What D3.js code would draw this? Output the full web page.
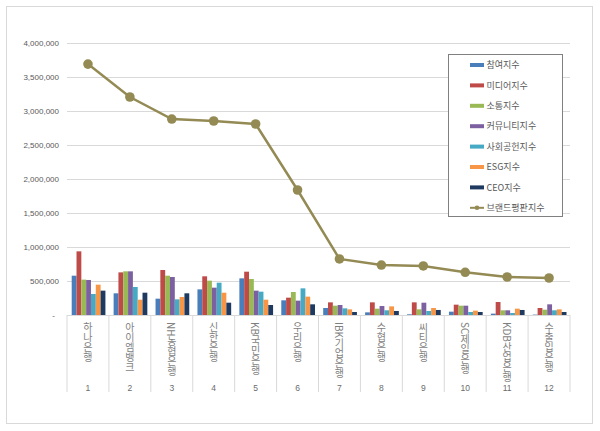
<!DOCTYPE html>
<html>
<head>
<meta charset="utf-8">
<script src="https://cdn.jsdelivr.net/npm/d3@7"></script>
<style>
  html, body { margin: 0; padding: 0; background: #fff; }
  svg { display: block; font-family: "Noto Sans CJK KR", "Noto Sans", sans-serif; }
</style>
</head>
<body>
<svg id="chart" width="600" height="431"></svg>
<script>
const banks = ["하나은행", "아이엠뱅크", "NH농협은행", "신한은행", "KB국민은행", "우리은행",
  "IBK기업은행", "수협은행", "씨티은행", "SC제일은행", "KDB산업은행", "수출입은행"];
const ranks = ["1", "2", "3", "4", "5", "6", "7", "8", "9", "10", "11", "12"];

const seriesNames = ["참여지수", "미디어지수", "소통지수", "커뮤니티지수", "사회공헌지수", "ESG지수", "CEO지수"];
const participation = [578000, 319000, 240000, 377000, 539000, 216000, 103000, 39000, 10000, 49000, 20000, 6000];
const media = [936000, 627000, 662000, 569000, 637000, 255000, 186000, 186000, 186000, 152000, 191000, 103000];
const communication = [520000, 642000, 578000, 505000, 529000, 338000, 137000, 93000, 83000, 137000, 69000, 78000];
const community = [515000, 642000, 559000, 402000, 358000, 211000, 147000, 132000, 181000, 137000, 69000, 157000];
const social = [309000, 412000, 230000, 475000, 343000, 392000, 98000, 69000, 59000, 44000, 29000, 69000];
const esg = [446000, 225000, 265000, 328000, 225000, 270000, 83000, 127000, 103000, 64000, 93000, 83000];
const ceo = [358000, 328000, 319000, 181000, 147000, 157000, 44000, 59000, 74000, 44000, 74000, 44000];
const brand = [3690000, 3206000, 2882000, 2853000, 2809000, 1838000, 824000, 735000, 721000, 628000, 559000, 544000];
const lineName = "브랜드평판지수";

const yTicks = [0, 500000, 1000000, 1500000, 2000000, 2500000, 3000000, 3500000, 4000000];

const barSeries = [participation, media, communication, community, social, esg, ceo];
const colors = ["#4a7ebb", "#be4b48", "#98b954", "#7d60a0", "#46aac5", "#f79646", "#1f3a60"];
const lineColor = "#948a54";

const svg = d3.select("#chart");
const margin = { left: 67, right: 30, top: 43, bottom: 116 };
const width = 600, height = 431;
const plotW = width - margin.left - margin.right;
const plotH = height - margin.top - margin.bottom;

svg.append("rect")
  .attr("x", 6.5).attr("y", 6.5)
  .attr("width", 586).attr("height", 417)
  .attr("fill", "#fff")
  .attr("stroke", "#d9d9d9");

const chart = svg.append("g").attr("transform", `translate(${margin.left},${margin.top})`);

const x = d3.scaleBand().domain(ranks).range([0, plotW]);
const xInner = d3.scaleBand().domain(d3.range(seriesNames.length)).range([4.7, x.bandwidth() - 3.5]);
const y = d3.scaleLinear().domain([0, 4000000]).range([plotH, 0]);

// gridlines
const grid = chart.append("g")
  .call(d3.axisLeft(y).tickValues(yTicks).tickSize(-plotW).tickFormat(""));
grid.select(".domain").remove();
grid.selectAll(".tick line").attr("stroke", "#d9d9d9");

// y labels
const yAxisG = chart.append("g")
  .call(d3.axisLeft(y).tickValues(yTicks).tickSize(0).tickPadding(8)
    .tickFormat(d => d === 0 ? "-" : d3.format(",")(d)));
yAxisG.select(".domain").remove();
yAxisG.selectAll("text").attr("fill", "#595959").style("font-size", "8px")
  .style("font-family", "'Liberation Sans', Arial, sans-serif");
yAxisG.selectAll(".tick").filter(d => d === 0).select("text").attr("dx", -4);

// category separators
const sepY2 = 77;
chart.append("g").selectAll("line")
  .data(d3.range(ranks.length + 1))
  .join("line")
  .attr("x1", i => i * x.step()).attr("x2", i => i * x.step())
  .attr("y1", plotH).attr("y2", plotH + sepY2)
  .attr("stroke", "#d9d9d9");

// bars
barSeries.forEach((vals, si) => {
  chart.append("g").selectAll("rect")
    .data(vals)
    .join("rect")
    .attr("x", (d, i) => x(ranks[i]) + xInner(si))
    .attr("width", xInner.bandwidth())
    .attr("y", d => y(d))
    .attr("height", d => plotH - y(d))
    .attr("fill", colors[si]);
});

// line
const lineGen = d3.line()
  .x((d, i) => x(ranks[i]) + x.bandwidth() / 2)
  .y(d => y(d));
chart.append("path")
  .datum(brand)
  .attr("d", lineGen)
  .attr("fill", "none")
  .attr("stroke", lineColor)
  .attr("stroke-width", 2.5);
chart.append("g").selectAll("circle")
  .data(brand)
  .join("circle")
  .attr("cx", (d, i) => x(ranks[i]) + x.bandwidth() / 2)
  .attr("cy", d => y(d))
  .attr("r", 4.8)
  .attr("fill", lineColor);

// category labels (vertical)
chart.append("g").selectAll("text")
  .data(banks)
  .join("text")
  .attr("x", (d, i) => x(ranks[i]) + x.bandwidth() / 2)
  .attr("y", plotH + 7)
  .attr("fill", "#7f7f7f")
  .style("font-size", "10px")
  .style("writing-mode", "vertical-rl")
  .style("text-orientation", "mixed")
  .attr("text-anchor", "start")
  .text(d => d);

chart.append("g").selectAll("text")
  .data(ranks)
  .join("text")
  .attr("x", d => x(d) + x.bandwidth() / 2)
  .attr("y", plotH + 76)
  .attr("text-anchor", "middle")
  .attr("fill", "#6b6b6b")
  .style("font-size", "8.5px")
  .style("font-family", "'Liberation Sans', Arial, sans-serif")
  .text(d => d);

// legend
const legend = svg.append("g").attr("transform", "translate(448.5,54.5)");
legend.append("rect")
  .attr("width", 114).attr("height", 162)
  .attr("fill", "#fff")
  .attr("stroke", "#808080");
const legendItems = seriesNames.concat([lineName]);
const item = legend.selectAll("g.item")
  .data(legendItems)
  .join("g")
  .attr("class", "item")
  .attr("transform", (d, i) => `translate(0,${10.5 + i * 20.4})`);
item.each(function (d, i) {
  const g = d3.select(this);
  if (i < seriesNames.length) {
    g.append("rect").attr("x", 21.5).attr("y", -2).attr("width", 14).attr("height", 4).attr("fill", colors[i]);
  } else {
    g.append("line").attr("x1", 21.5).attr("x2", 35.5).attr("y1", 0).attr("y2", 0)
      .attr("stroke", lineColor).attr("stroke-width", 2);
    g.append("circle").attr("cx", 28.5).attr("cy", 0).attr("r", 2.3).attr("fill", lineColor);
  }
  g.append("text")
    .attr("x", 38)
    .attr("y", 0)
    .attr("dy", "0.35em")
    .attr("fill", "#595959")
    .style("font-size", "9px")
    .text(d);
});
</script>
</body>
</html>
